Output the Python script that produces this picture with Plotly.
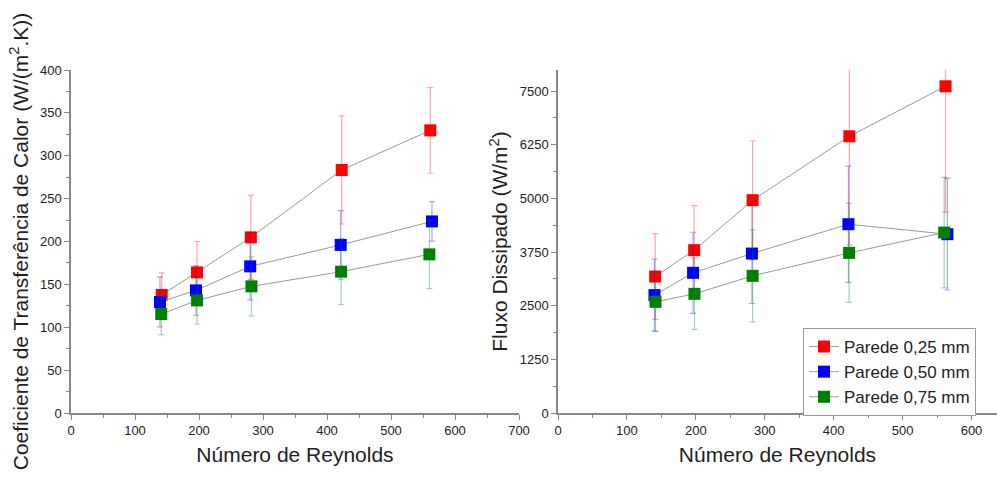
import plotly.graph_objects as go

# Left panel: heat transfer coefficient
re_red_l = [141.7, 196.9, 281.0, 423.0, 561.4]
h_red = [137.6, 164.0, 204.8, 283.4, 329.6]
h_red_err = [25.7, 36.0, 49.0, 63.0, 50.0]
re_blue_l = [139.0, 195.3, 280.0, 421.4, 564.0]
h_blue = [129.4, 143.0, 171.0, 196.0, 223.4]
h_blue_err = [29.0, 29.0, 39.0, 40.0, 23.0]
re_green_l = [141.0, 197.0, 282.0, 422.0, 560.0]
h_green = [115.4, 131.3, 147.7, 164.8, 185.0]
h_green_err = [24.0, 27.5, 34.5, 38.5, 40.0]

# Right panel: dissipated flux
re_red_r = [141.0, 197.6, 282.4, 422.8, 562.3]
q_red = [3179, 3793, 4957, 6446, 7610]
q_red_err = [1000, 1040, 1385, 2537, 2932]
re_blue_r = [140.0, 196.0, 281.4, 421.4, 565.0]
q_blue = [2746, 3265, 3714, 4398, 4165]
q_blue_err = [840, 946, 1163, 1354, 1300]
re_green_r = [141.5, 198.0, 282.4, 422.4, 560.4]
q_green = [2590, 2776, 3195, 3730, 4203]
q_green_err = [690, 830, 1070, 1155, 1288]

names = ["Parede 0,25 mm", "Parede 0,50 mm", "Parede 0,75 mm"]
colors = ["#FF0000", "#0000FF", "#008000"]
err_colors = ["rgba(255,0,0,0.35)", "rgba(0,0,255,0.35)", "rgba(0,128,0,0.35)"]

fig = go.Figure()

left = [(re_red_l, h_red, h_red_err), (re_blue_l, h_blue, h_blue_err), (re_green_l, h_green, h_green_err)]
right = [(re_red_r, q_red, q_red_err), (re_blue_r, q_blue, q_blue_err), (re_green_r, q_green, q_green_err)]

for i, (x, y, e) in enumerate(left):
    fig.add_trace(go.Scatter(
        x=x, y=y, mode="lines+markers", name=names[i], showlegend=False,
        line=dict(color="#9a9a9a", width=1),
        marker=dict(symbol="square", size=12, color=colors[i]),
        error_y=dict(type="data", array=e, visible=True, color=err_colors[i], thickness=1.2, width=3),
        xaxis="x", yaxis="y"))

for i, (x, y, e) in enumerate(right):
    fig.add_trace(go.Scatter(
        x=x, y=y, mode="lines+markers", name=names[i], showlegend=True,
        line=dict(color="#9a9a9a", width=1),
        marker=dict(symbol="square", size=12, color=colors[i]),
        error_y=dict(type="data", array=e, visible=True, color=err_colors[i], thickness=1.2, width=3),
        xaxis="x2", yaxis="y2"))

font_family = "Liberation Sans, Arial, sans-serif"
axis_common = dict(
    showline=True, linecolor="#888888", linewidth=1.5,
    ticks="outside", ticklen=5, tickcolor="#888888", tickwidth=1,
    showgrid=False, zeroline=False, automargin=False,
    tickfont=dict(family=font_family, size=13, color="#222222"),
)

ydom = [(477 - 413) / 477, (477 - 70) / 477]
title_size = 21

fig.update_layout(
    width=997, height=477,
    margin=dict(l=0, r=0, t=0, b=0),
    paper_bgcolor="white", plot_bgcolor="white",
    font=dict(family=font_family, color="#222222"),
    xaxis=dict(domain=[71 / 997, 519 / 997], range=[0, 700], dtick=100,
               minor=dict(dtick=50, ticks="outside", ticklen=3, tickcolor="#888888"),
               title=dict(text="Número de Reynolds", font=dict(size=title_size), standoff=10),
               anchor="y", **axis_common),
    yaxis=dict(domain=ydom, range=[0, 400], dtick=50,
               minor=dict(dtick=25, ticks="outside", ticklen=3, tickcolor="#888888"),
               title=dict(text="Coeficiente de Transferência de Calor (W/(m<sup>2</sup>.K))",
                          font=dict(size=title_size), standoff=6),
               anchor="x", **axis_common),
    xaxis2=dict(domain=[558 / 997, 1.0], range=[0, 637], dtick=100,
                minor=dict(dtick=50, ticks="outside", ticklen=3, tickcolor="#888888"),
                title=dict(text="Número de Reynolds", font=dict(size=title_size), standoff=10),
                anchor="y2", **axis_common),
    yaxis2=dict(domain=ydom, range=[0, 7990], dtick=1250,
                minor=dict(dtick=625, ticks="outside", ticklen=3, tickcolor="#888888"),
                title=dict(text="Fluxo Dissipado (W/m<sup>2</sup>)", font=dict(size=title_size), standoff=6),
                anchor="x2", **axis_common),
    legend=dict(x=803 / 997, y=(477 - 328) / 477, xanchor="left", yanchor="top",
                bordercolor="#999999", borderwidth=1, bgcolor="white",
                font=dict(family=font_family, size=17, color="#222222"),
                tracegroupgap=0),
)

fig.write_html("out.html")
